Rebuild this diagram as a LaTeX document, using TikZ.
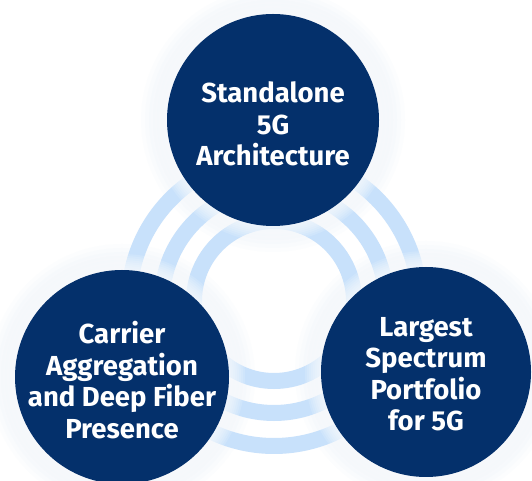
\documentclass[tikz,border=0pt]{standalone}
\usepackage{fontspec}
\setmainfont{Fira Sans}
\tikzset{
  ring/.style={draw=ringblue, line width=16pt},
  bubble/.style={circle, fill=navy, inner sep=0pt},
  label/.style={text=white, font=\bfseries\fontsize{27.5}{31.5}\selectfont, align=center},
}
\definecolor{navy}{HTML}{04306B}
\definecolor{ringblue}{HTML}{C8E1FB}
\begin{document}
\begin{tikzpicture}[x=1pt,y=1pt]
\useasboundingbox (0,0) rectangle (532,481);
\fill[white] (0,0) rectangle (532,481);
\coordinate (rc) at (274,180);
\coordinate (ct) at (273,361);
\coordinate (cl) at (122,104);
\coordinate (cr) at (426,109);
% faint blue glow
\foreach \c/\r in {ct/106, cl/107, cr/105}{
  \foreach \d in {26,22,...,2}{
    \fill[ringblue, opacity=0.05] (\c) circle (\r+\d);
  }
}
% rings
\draw[ring] (rc) circle (80);
\draw[ring] (rc) circle (112);
\draw[ring] (rc) circle (145);
% white halo
\foreach \c/\r in {ct/106, cl/107, cr/105}{
  \foreach \d in {16,14,...,2}{
    \fill[white, opacity=0.14] (\c) circle (\r+\d);
  }
}
\node[bubble, minimum size=212pt] (top) at (ct) {};
\node[bubble, minimum size=214pt] (left) at (cl) {};
\node[bubble, minimum size=210pt] (right) at (cr) {};
\node[label] (toptext) at ([yshift=-4pt]top.center) {Standalone\\5G\\Architecture};
\node[label] (lefttext) at ([yshift=-3pt]left.center) {Carrier\\Aggregation\\and Deep Fiber\\Presence};
\node[label] (righttext) at ([yshift=-2pt]right.center) {Largest\\Spectrum\\Portfolio\\for 5G};
\end{tikzpicture}
\end{document}
